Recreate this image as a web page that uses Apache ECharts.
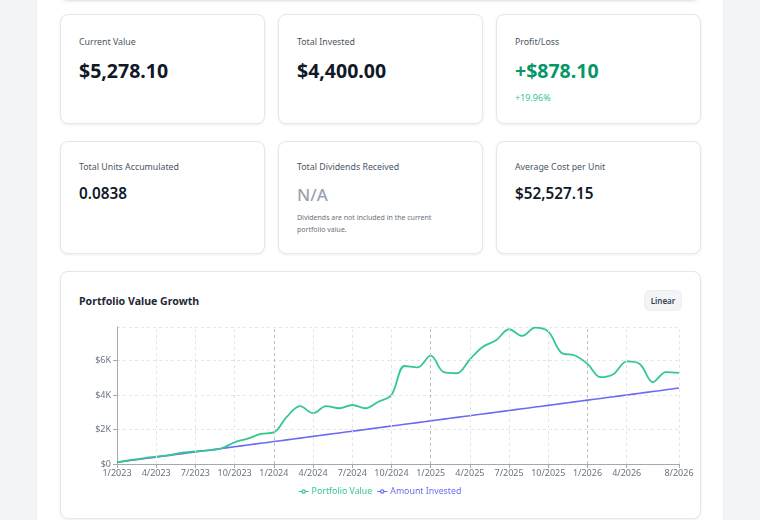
<!DOCTYPE html>
<html>
<head>
<meta charset="utf-8">
<script src="https://cdn.jsdelivr.net/npm/echarts@6/dist/echarts.min.js"></script>
<style>
  html, body { margin:0; padding:0; }
  body { width:760px; height:520px; overflow:hidden; background:#f3f4f6; position:relative; font-family:"Noto Sans", "Open Sans", sans-serif; }
  .panel { position:absolute; left:36px; top:0; width:688px; height:520px; background:#fff; box-sizing:border-box; border-left:1px solid #eceef1; border-right:1px solid #eceef1; }
  .card { position:absolute; box-sizing:border-box; background:#fff; border:1px solid #e5e7eb; border-radius:8px; box-shadow:0 1px 3px rgba(0,0,0,0.07); }
  .t { position:absolute; white-space:nowrap; line-height:1; }
  .lab { font-size:8.8px; color:#4b5563; }
  .big { font-size:19.5px; font-weight:700; color:#111827; }
  .mid { font-size:15.3px; font-weight:600; color:#111827; }
  .note { font-size:7px; color:#6b7280; }
  #chart { position:absolute; left:60px; top:271px; width:640px; height:247px; }
  .btn { position:absolute; left:644px; top:290px; width:38px; height:21px; box-sizing:border-box; background:#f3f4f6; border:1px solid #eceef1; border-radius:6px; font-size:8px; font-weight:600; color:#374151; text-align:center; line-height:19px; }
</style>
</head>
<body>
<div class="panel"></div>
<div class="card" style="left:60px; top:-60px; width:640px; height:61px;"></div>

<div class="card" style="left:60px; top:14px; width:205px; height:110px;"></div>
<div class="card" style="left:278px; top:14px; width:205px; height:110px;"></div>
<div class="card" style="left:496px; top:14px; width:205px; height:110px;"></div>
<div class="card" style="left:60px; top:141px; width:205px; height:113px;"></div>
<div class="card" style="left:278px; top:141px; width:205px; height:113px;"></div>
<div class="card" style="left:496px; top:141px; width:205px; height:113px;"></div>
<div class="card" style="left:60px; top:271px; width:641px; height:248px;"></div>

<div class="t lab" style="left:79px; top:37.5px;">Current Value</div>
<div class="t big" style="left:79px; top:61px;">$5,278.10</div>

<div class="t lab" style="left:297px; top:37.5px;">Total Invested</div>
<div class="t big" style="left:297px; top:61px;">$4,400.00</div>

<div class="t lab" style="left:515px; top:37.5px;">Profit/Loss</div>
<div class="t big" style="left:515px; top:61px; color:#079669;">+$878.10</div>
<div class="t" style="left:515px; top:93px; font-size:9px; color:#34c68d;">+19.96%</div>

<div class="t lab" style="left:79px; top:162.5px;">Total Units Accumulated</div>
<div class="t mid" style="left:79px; top:185.5px;">0.0838</div>

<div class="t lab" style="left:297px; top:162.5px;">Total Dividends Received</div>
<div class="t" style="left:297px; top:186px; font-size:17px; font-weight:500; color:#9ca3af;">N/A</div>
<div class="t note" style="left:297px; top:213.5px;">Dividends are not included in the current</div>
<div class="t note" style="left:297px; top:226px;">portfolio value.</div>

<div class="t lab" style="left:515px; top:162.5px;">Average Cost per Unit</div>
<div class="t mid" style="left:515px; top:185.5px;">$52,527.15</div>

<div class="t" style="left:79px; top:295.5px; font-size:10.6px; font-weight:700; color:#1f2937;">Portfolio Value Growth</div>
<div class="btn">Linear</div>

<div id="chart"></div>

<script>
const months = ['1/2023','2/2023','3/2023','4/2023','5/2023','6/2023','7/2023','8/2023','9/2023','10/2023','11/2023','12/2023',
  '1/2024','2/2024','3/2024','4/2024','5/2024','6/2024','7/2024','8/2024','9/2024','10/2024','11/2024','12/2024',
  '1/2025','2/2025','3/2025','4/2025','5/2025','6/2025','7/2025','8/2025','9/2025','10/2025','11/2025','12/2025',
  '1/2026','2/2026','3/2026','4/2026','5/2026','6/2026','7/2026','8/2026'];

const portfolioValue = [100, 220, 330, 425, 520, 655, 735, 790, 910, 1258, 1467, 1740,
  1830, 2742, 3350, 2940, 3360, 3230, 3420, 3230, 3610, 4000, 5680, 5600,
  6280, 5320, 5260, 6070, 6800, 7170, 7810, 7420, 7900, 7670, 6450, 6300,
  5800, 5030, 5220, 5950, 5800, 4750, 5330, 5278.10];

const amountInvested = [100, 200, 300, 400, 500, 600, 700, 800, 900, 1000, 1100, 1200,
  1300, 1400, 1500, 1600, 1700, 1800, 1900, 2000, 2100, 2200, 2300, 2400,
  2500, 2600, 2700, 2800, 2900, 3000, 3100, 3200, 3300, 3400, 3500, 3600,
  3700, 3800, 3900, 4000, 4100, 4200, 4300, 4400];

const yearMarks = ['1/2024', '1/2025', '1/2026'];
const tickMonths = ['4/2023','7/2023','10/2023','4/2024','7/2024','10/2024','4/2025','7/2025','10/2025','4/2026','8/2026'];
const yTicks = [0, 2000, 4000, 6000];

const GREEN = '#36c78f';
const PURPLE = '#6b6bf2';

const lastIdx = months.length - 1;
const showTick = (i) => (i % 3 === 0 && i < lastIdx - 1) || i === lastIdx;

const legendIcon = 'path://M0,14.5H10.67V17.5H0Z M21.33,14.5H32V17.5H21.33Z M8.67,16A7.33,7.33 0 1,1 23.33,16A7.33,7.33 0 1,1 8.67,16Z M12.67,16A3.33,3.33 0 1,0 19.33,16A3.33,3.33 0 1,0 12.67,16Z';

const gridLineData = tickMonths.map(m => ({ xAxis: m, lineStyle: { color: '#e3e5e9', type: [3, 3], width: 1 } }))
  .concat(yearMarks.map(m => ({ xAxis: m, lineStyle: { color: '#b9bdc5', type: [3, 3], width: 1 } })));

const chart = echarts.init(document.getElementById('chart'), null, { renderer: 'canvas' });
chart.setOption({
  animation: false,
  textStyle: { fontFamily: '"Noto Sans", sans-serif' },
  grid: { left: 57, right: 21, top: 56, bottom: 54, containLabel: false, outerBoundsMode: 'none' },
  legend: {
    bottom: 17,
    left: 'center',
    icon: legendIcon,
    itemWidth: 10,
    itemHeight: 5,
    itemGap: 5,
    textStyle: { fontSize: 8.8, padding: [0, 0, 0, -2] },
    data: [
      { name: 'Portfolio Value', textStyle: { color: GREEN } },
      { name: 'Amount Invested', textStyle: { color: PURPLE } }
    ]
  },
  xAxis: {
    type: 'category',
    data: months,
    boundaryGap: false,
    axisLine: { lineStyle: { color: '#a3a8b3', width: 1 } },
    axisTick: { show: true, length: 4, interval: (i) => showTick(i), lineStyle: { color: '#a3a8b3' } },
    axisLabel: { interval: (i) => showTick(i), color: '#6b7280', fontSize: 9, margin: 5, hideOverlap: false },
    splitLine: { show: false }
  },
  yAxis: {
    type: 'value',
    min: 0,
    max: 7940,
    interval: 2000,
    axisLine: { show: true, lineStyle: { color: '#a3a8b3', width: 1 } },
    axisTick: { show: true, length: 4, lineStyle: { color: '#a3a8b3' } },
    axisLabel: {
      color: '#6b7280', fontSize: 9, margin: 6, showMaxLabel: false,
      formatter: (v) => yTicks.indexOf(v) >= 0 ? (v === 0 ? '$0' : '$' + (v / 1000) + 'K') : ''
    },
    splitLine: { show: true, lineStyle: { color: '#e3e5e9', type: [3, 3], width: 1 } }
  },
  series: [
    {
      name: 'Portfolio Value',
      type: 'line',
      data: portfolioValue,
      smooth: 0.35,
      showSymbol: false,
      symbol: 'none',
      lineStyle: { color: GREEN, width: 1.8 },
      itemStyle: { color: GREEN },
      z: 3
    },
    {
      name: 'Amount Invested',
      type: 'line',
      data: amountInvested,
      smooth: true,
      showSymbol: false,
      symbol: 'none',
      lineStyle: { color: PURPLE, width: 1.6 },
      itemStyle: { color: PURPLE },
      z: 2,
      markLine: {
        silent: true,
        symbol: ['none', 'none'],
        label: { show: false },
        emphasis: { disabled: true },
        data: gridLineData
      }
    }
  ]
});
</script>
</body>
</html>
